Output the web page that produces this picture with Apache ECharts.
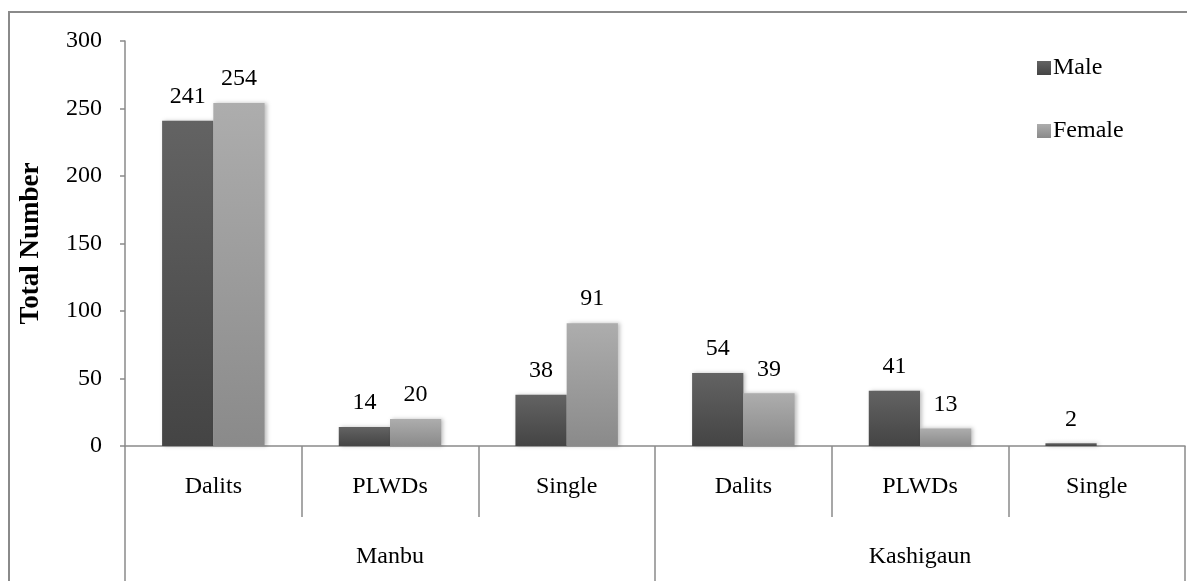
<!DOCTYPE html>
<html>
<head>
<meta charset="utf-8">
<script src="https://cdn.jsdelivr.net/npm/echarts@6/dist/echarts.min.js"></script>
<style>
html,body{margin:0;padding:0;background:#fff;}
#chart{width:1187px;height:581px;}
</style>
</head>
<body>
<div id="chart"></div>
<script>
var categories = ['Dalits', 'PLWDs', 'Single', 'Dalits', 'PLWDs', 'Single'];
var groups = ['Manbu', 'Kashigaun'];
var maleValues = [241, 14, 38, 54, 41, 2];
var femaleValues = [254, 20, 91, 39, 13, 0];
var seriesNames = ['Male', 'Female'];
var yTicks = [0, 50, 100, 150, 200, 250, 300];

var FONT = '"Liberation Serif", "DejaVu Serif", serif';
var FS = 24;
var axisGray = '#8a8a8a';

function grad(top, bottom) {
  return new echarts.graphic.LinearGradient(0, 0, 0, 1, [
    {offset: 0, color: top}, {offset: 1, color: bottom}
  ]);
}

var chart = echarts.init(document.getElementById('chart'));
chart.setOption({
  backgroundColor: '#fff',
  animation: false,
  textStyle: {fontFamily: FONT, color: '#000'},
  graphic: [{
    type: 'rect', z: -1,
    shape: {x: 9, y: 12, width: 1200, height: 600},
    style: {fill: 'none', stroke: '#8a8a8a', lineWidth: 2}
  }],
  grid: {left: 125, right: 2, top: 41, bottom: 135, containLabel: false},
  legend: {
    orient: 'vertical',
    left: 1037, top: 56,
    padding: 0,
    itemWidth: 14, itemHeight: 14,
    itemGap: 39,
    icon: 'rect',
    textStyle: {fontFamily: FONT, fontSize: FS, color: '#000', padding: [0, 0, 0, -3]},
    data: seriesNames
  },
  xAxis: [{
    type: 'category',
    data: categories,
    position: 'bottom',
    axisLine: {show: true, lineStyle: {color: axisGray, width: 1.5}},
    axisTick: {show: true, length: 71, lineStyle: {color: axisGray, width: 1.5}},
    axisLabel: {fontFamily: FONT, fontSize: FS, color: '#000', margin: 29, interval: 0}
  }, {
    type: 'category',
    data: groups,
    position: 'bottom',
    axisLine: {show: false},
    axisTick: {show: true, length: 145, lineStyle: {color: axisGray, width: 1.5}},
    axisLabel: {fontFamily: FONT, fontSize: FS, color: '#000', margin: 99, interval: 0}
  }],
  yAxis: {
    type: 'value',
    min: yTicks[0], max: yTicks[yTicks.length - 1], interval: 50,
    name: 'Total Number',
    nameLocation: 'middle',
    nameGap: 80,
    nameRotate: 90,
    nameTextStyle: {fontFamily: FONT, fontSize: 27, fontWeight: 'bold', color: '#000'},
    axisLine: {show: true, lineStyle: {color: axisGray, width: 1.5}},
    axisTick: {show: true, length: 5, lineStyle: {color: axisGray, width: 1.5}},
    axisLabel: {fontFamily: FONT, fontSize: FS, color: '#000', margin: 23},
    splitLine: {show: false}
  },
  series: [{
    name: seriesNames[0],
    type: 'bar',
    xAxisIndex: 0,
    data: maleValues,
    barGap: '0%',
    barCategoryGap: '42%',
    itemStyle: {color: grad('#636363', '#444444'), shadowBlur: 4, shadowColor: 'rgba(0,0,0,0.25)', shadowOffsetX: 2},
    label: {show: true, position: 'top', distance: 12, fontFamily: FONT, fontSize: FS, color: '#000'}
  }, {
    name: seriesNames[1],
    type: 'bar',
    xAxisIndex: 0,
    data: femaleValues,
    itemStyle: {color: grad('#adadad', '#8a8a8a'), shadowBlur: 4, shadowColor: 'rgba(0,0,0,0.25)', shadowOffsetX: 2},
    label: {
      show: true, position: 'top', distance: 12, fontFamily: FONT, fontSize: FS, color: '#000',
      formatter: function (p) { return p.value === 0 ? '' : p.value; }
    }
  }]
});
</script>
</body>
</html>
